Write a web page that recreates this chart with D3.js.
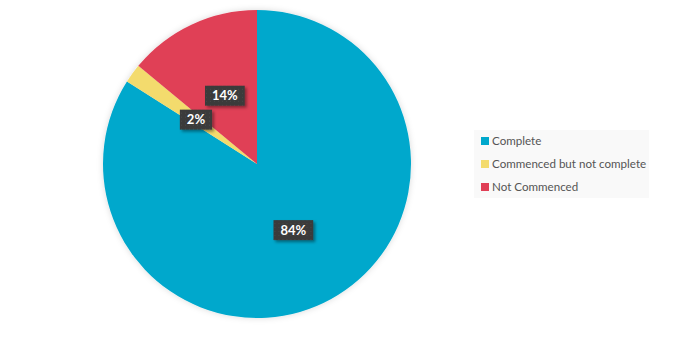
<!DOCTYPE html>
<html>
  <head>
    <meta charset="UTF-8" />
    <script src="https://cdnjs.cloudflare.com/ajax/libs/d3/7.8.5/d3.min.js"></script>
    <style>
      body { margin: 0; background: #fff; }
      text { font-family: Lato, "Open Sans", sans-serif; }
      .legend text { fill: #555; font-size: 11.6px; }
      .lbl text { fill: #fff; font-size: 13px; font-weight: bold; }
    </style>
  </head>
  <body>
    <svg id="chart" width="696" height="338"></svg>
    <script>
      const categories = ["Complete", "Commenced but not complete", "Not Commenced"];
      const values = [84, 2, 14];
      const colors = ["#00a8cc", "#f3db6d", "#e03f56"];

      const svg = d3.select("#chart");
      const cx = 257, cy = 164, radius = 154;

      const defs = svg.append("defs");
      const shadow = defs.append("filter").attr("id", "shadow")
        .attr("x", "-20%").attr("y", "-20%").attr("width", "140%").attr("height", "140%");
      shadow.append("feDropShadow").attr("dx", 0).attr("dy", 0)
        .attr("stdDeviation", 3).attr("flood-color", "#000").attr("flood-opacity", 0.15);
      const boxShadow = defs.append("filter").attr("id", "boxShadow")
        .attr("x", "-30%").attr("y", "-30%").attr("width", "170%").attr("height", "180%");
      boxShadow.append("feDropShadow").attr("dx", 2).attr("dy", 2)
        .attr("stdDeviation", 1.5).attr("flood-color", "#000").attr("flood-opacity", 0.4);
      const dots = defs.append("pattern").attr("id", "dots")
        .attr("width", 4).attr("height", 4).attr("patternUnits", "userSpaceOnUse");
      dots.append("rect").attr("width", 4).attr("height", 4).attr("fill", "#3a3a3a");
      dots.append("rect").attr("x", 1).attr("y", 1).attr("width", 1).attr("height", 1).attr("fill", "#4a4a4a");

      const pie = d3.pie().sort(null).value(d => d);
      const arcs = pie(values);
      const arc = d3.arc().innerRadius(0).outerRadius(radius);
      const labelArc = d3.arc().innerRadius(radius * 0.49).outerRadius(radius * 0.49);

      const g = svg.append("g").attr("transform", `translate(${cx},${cy})`);
      g.append("g").attr("filter", "url(#shadow)")
        .selectAll("path")
        .data(arcs)
        .enter()
        .append("path")
        .attr("d", arc)
        .attr("fill", (d, i) => colors[i]);

      const labels = g.selectAll("g.lbl")
        .data(arcs)
        .enter()
        .append("g")
        .attr("class", "lbl")
        .attr("transform", d => `translate(${labelArc.centroid(d)})`);

      labels.each(function (d) {
        const sel = d3.select(this);
        const txt = sel.append("text")
          .attr("text-anchor", "middle")
          .attr("dy", "0.36em")
          .text(d.value + "%");
        const w = txt.node().getComputedTextLength() + 14;
        sel.insert("rect", "text")
          .attr("x", -w / 2).attr("y", -10)
          .attr("width", w).attr("height", 20)
          .attr("fill", "url(#dots)")
          .attr("filter", "url(#boxShadow)");
      });

      const legend = svg.append("g").attr("class", "legend")
        .attr("transform", "translate(474,130)");
      legend.append("rect").attr("width", 175).attr("height", 68).attr("fill", "#f9f9f9");
      const rowY = d3.scalePoint().domain(categories).range([11, 57]);
      const items = legend.selectAll("g.item")
        .data(categories)
        .enter()
        .append("g")
        .attr("class", "item")
        .attr("transform", d => `translate(7,${rowY(d)})`);
      items.append("rect").attr("y", -4).attr("width", 8).attr("height", 8)
        .attr("fill", (d, i) => colors[i]);
      items.append("text").attr("x", 11).attr("dy", "0.35em").text(d => d);
    </script>
  </body>
</html>
